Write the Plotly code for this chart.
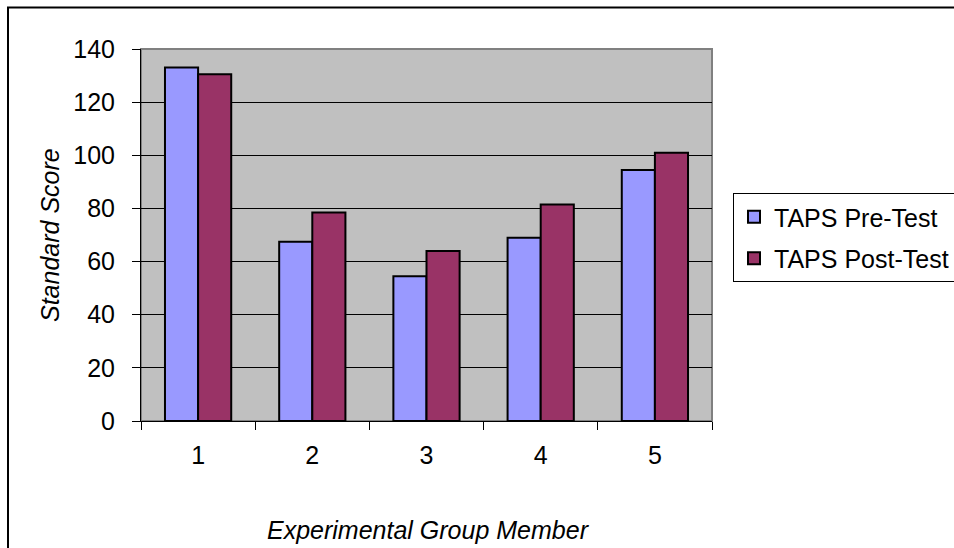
import plotly.graph_objects as go

members = ["1", "2", "3", "4", "5"]
pre_test = [133, 67.5, 54.5, 69, 94.5]
post_test = [130.5, 78.5, 64, 81.5, 101]
y_ticks = [0, 20, 40, 60, 80, 100, 120, 140]

FONT = "Liberation Sans, Arial, sans-serif"
FS = 25

fig = go.Figure()
fig.add_trace(go.Bar(x=members, y=pre_test, name="TAPS Pre-Test",
                     marker=dict(color="#9999FF", line=dict(color="#000000", width=2)),
                     legendgroup="a"))
fig.add_trace(go.Bar(x=members, y=post_test, name="TAPS Post-Test",
                     marker=dict(color="#993366", line=dict(color="#000000", width=2)),
                     legendgroup="b"))

W, H = 571, 372
def px(x):
    return (x - 141) / W
def py(y):
    return (421 - y) / H

fig.update_layout(
    width=954, height=548,
    margin=dict(l=141, r=242, t=49, b=127, autoexpand=False),
    paper_bgcolor="white",
    plot_bgcolor="#C0C0C0",
    font=dict(family=FONT, size=FS, color="black"),
    barmode="group", bargap=0.42, bargroupgap=0,
    showlegend=True,
    legend=dict(x=px(733), y=py(193), xanchor="left", yanchor="top",
                bordercolor="black", borderwidth=1, bgcolor="white",
                font=dict(family=FONT, size=FS), tracegroupgap=6,
                traceorder="grouped"),
    xaxis=dict(type="category", tickson="boundaries", ticks="outside", ticklen=8,
               tickcolor="black", showline=True, linecolor="black", linewidth=1,
               showgrid=False, ticklabelstandoff=12, automargin=False,
               tickfont=dict(family=FONT, size=FS)),
    yaxis=dict(range=[0, 140], tickvals=y_ticks, ticks="outside", ticklen=8,
               tickcolor="black", showline=True, linecolor="black", linewidth=1,
               showgrid=True, gridcolor="black", gridwidth=1, zeroline=False,
               ticklabelstandoff=12, automargin=False,
               tickfont=dict(family=FONT, size=FS)),
    shapes=[
        dict(type="rect", xref="paper", yref="paper", x0=0, x1=1, y0=0, y1=1,
             line=dict(color="#808080", width=2), layer="below"),
        dict(type="rect", xref="paper", yref="paper", x0=px(8), x1=px(962),
             y0=py(556), y1=py(7.5), line=dict(color="black", width=2)),
    ],
    annotations=[
        dict(text="<i>Standard Score</i>", xref="paper", yref="paper",
             x=px(50), y=py(235), textangle=-90, showarrow=False,
             xanchor="center", yanchor="middle", font=dict(family=FONT, size=FS)),
        dict(text="<i>Experimental Group Member</i>", xref="paper", yref="paper",
             x=px(428), y=py(530), showarrow=False,
             xanchor="center", yanchor="middle", font=dict(family=FONT, size=FS)),
    ],
)

fig.write_html("out.html", config={"displayModeBar": False},
               post_script="document.body.style.margin='0';document.body.style.overflow='hidden';")
